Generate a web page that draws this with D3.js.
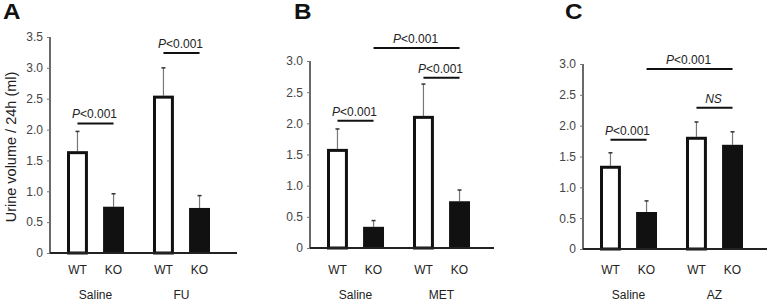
<!DOCTYPE html>
<html><head><meta charset="utf-8">
<script src="https://cdn.jsdelivr.net/npm/d3@7"></script>
<style>body{margin:0;background:#fff}svg{display:block;font-family:"Liberation Sans",Arial,sans-serif}</style>
</head><body><svg id="c" width="767" height="303"></svg>
<script>
const genotypes = ["WT", "KO"];
const panelLetters = ["A", "B", "C"];
const groupsA = ["Saline", "FU"];
const groupsB = ["Saline", "MET"];
const groupsC = ["Saline", "AZ"];
const yTicksA = [0, 0.5, 1.0, 1.5, 2.0, 2.5, 3.0, 3.5];
const yTicksBC = [0, 0.5, 1.0, 1.5, 2.0, 2.5, 3.0];
const yLabel = "Urine volume / 24h (ml)";
// means [Saline WT, Saline KO, Drug WT, Drug KO]
const meanA = [1.65, 0.75, 2.55, 0.73];
const errA  = [1.97, 0.96, 3.00, 0.93];
const meanB = [1.59, 0.34, 2.12, 0.75];
const errB  = [1.91, 0.44, 2.63, 0.93];
const meanC = [1.35, 0.60, 1.82, 1.69];
const errC  = [1.56, 0.78, 2.06, 1.90];
// comparisons: [from bar index, to bar index, level, label]
const sigA = [[0, 1, 2.10, "P<0.001"], [2, 3, 3.24, "P<0.001"]];
const sigB = [[0, 1, 2.04, "P<0.001"], [2, 3, 2.73, "P<0.001"], [1, 3, 3.21, "P<0.001"]];
const sigC = [[0, 1, 1.77, "P<0.001"], [2, 3, 2.29, "NS"], [1, 3, 2.92, "P<0.001"]];

const svg = d3.select("#c");

const panels = [
  {letter: panelLetters[0], letterX: 3, groups: groupsA, mean: meanA, err: errA, sig: sigA, ticks: yTicksA, yMax: 3.5, ax: 50, y0: 253, yTop: 37, xEnd: 237, title: true},
  {letter: panelLetters[1], letterX: 294, groups: groupsB, mean: meanB, err: errB, sig: sigB, ticks: yTicksBC, yMax: 3.0, ax: 310, y0: 248, yTop: 61, xEnd: 494},
  {letter: panelLetters[2], letterX: 565, groups: groupsC, mean: meanC, err: errC, sig: sigC, ticks: yTicksBC, yMax: 3.0, ax: 583, y0: 249, yTop: 64, xEnd: 767}
];

panels.forEach(p => {
  const g = svg.append("g");
  const y = d3.scaleLinear().domain([0, p.yMax]).range([p.y0, p.yTop]);
  const x0 = d3.scaleBand().domain(p.groups).range([p.ax + 17, p.ax + 17 + 143]).paddingInner(0.337).paddingOuter(0);
  const x1 = d3.scaleBand().domain(genotypes).range([0, x0.bandwidth()]).paddingInner(0.42).paddingOuter(0);
  const bars = [];
  p.groups.forEach((grp, gi) => genotypes.forEach((gt, ti) => {
    const i = gi * 2 + ti;
    bars.push({grp, gt, v: p.mean[i], e: p.err[i], x: x0(grp) + x1(gt), w: x1.bandwidth()});
  }));
  const cx = b => b.x + b.w / 2;

  // panel letter
  g.append("text").attr("x", p.letterX).attr("y", 19).attr("font-size", 22).attr("font-weight", "bold")
    .attr("textLength", 17.5).attr("lengthAdjust", "spacingAndGlyphs").attr("fill", "#111").text(p.letter);

  // y axis
  const yAxis = d3.axisLeft(y).tickValues(p.ticks).tickSize(3).tickPadding(4)
    .tickFormat(d => d === 0 ? "0" : d3.format(".1f")(d));
  const ya = g.append("g").attr("transform", `translate(${p.ax},0)`).call(yAxis);
  ya.select(".domain").attr("stroke", "#444").attr("stroke-width", 1.6).attr("d", `M0,${p.y0}V${p.yTop}`);
  ya.selectAll(".tick line").attr("stroke", "#777").attr("stroke-width", 1);
  ya.selectAll(".tick text").attr("font-size", 12).attr("fill", "#444").attr("font-family", "Liberation Sans, Arial, sans-serif");

  // error bars
  bars.forEach(b => {
    g.append("line").attr("x1", cx(b)).attr("x2", cx(b)).attr("y1", y(b.v)).attr("y2", y(b.e))
      .attr("stroke", "#777").attr("stroke-width", 1.2);
    g.append("line").attr("x1", cx(b) - 2).attr("x2", cx(b) + 2).attr("y1", y(b.e)).attr("y2", y(b.e))
      .attr("stroke", "#333").attr("stroke-width", 1.5);
  });

  // bars
  bars.forEach(b => {
    if (b.gt === "WT") {
      g.append("rect").attr("x", b.x + 1.5).attr("y", y(b.v) + 1.5).attr("width", b.w - 3).attr("height", y(0) - y(b.v) - 1.5)
        .attr("fill", "#fff").attr("stroke", "#111").attr("stroke-width", 3);
    } else {
      g.append("rect").attr("x", b.x).attr("y", y(b.v)).attr("width", b.w).attr("height", y(0) - y(b.v)).attr("fill", "#111");
    }
  });

  // x axis line
  g.append("line").attr("x1", p.ax).attr("x2", p.xEnd).attr("y1", y(0)).attr("y2", y(0)).attr("stroke", "#222").attr("stroke-width", 2);

  // genotype labels and group labels
  bars.forEach(b => {
    g.append("text").attr("x", cx(b)).attr("y", 274).attr("text-anchor", "middle").attr("font-size", 12).attr("fill", "#222").text(b.gt);
  });
  p.groups.forEach(grp => {
    g.append("text").attr("x", x0(grp) + x0.bandwidth() / 2).attr("y", 299).attr("text-anchor", "middle").attr("font-size", 12).attr("fill", "#222").text(grp);
  });

  // significance
  p.sig.forEach(s => {
    const a = bars[s[0]], b = bars[s[1]], yy = y(s[2]);
    g.append("line").attr("x1", cx(a)).attr("x2", cx(b)).attr("y1", yy).attr("y2", yy).attr("stroke", "#111").attr("stroke-width", 2);
    const t = g.append("text").attr("x", (cx(a) + cx(b)) / 2 - 1).attr("y", yy - 5).attr("text-anchor", "middle").attr("font-size", 12).attr("fill", "#222");
    if (s[3] === "NS") {
      t.append("tspan").attr("font-style", "italic").text("NS");
    } else {
      t.append("tspan").attr("font-style", "italic").text(s[3].slice(0, 1));
      t.append("tspan").text(s[3].slice(1));
    }
  });

  if (p.title) {
    g.append("text").attr("transform", `translate(16,147) rotate(-90)`).attr("text-anchor", "middle").attr("font-size", 14.5).attr("fill", "#222").text(yLabel);
  }
});
</script></body></html>
